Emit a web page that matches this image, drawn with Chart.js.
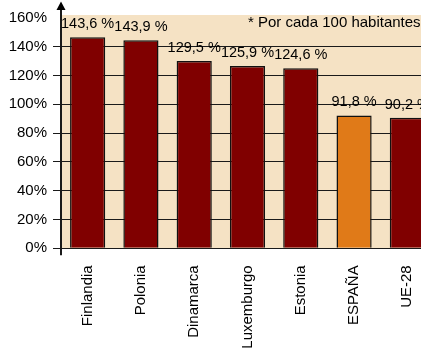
<!DOCTYPE html>
<html><head><meta charset="utf-8">
<script src="https://cdn.jsdelivr.net/npm/chart.js@4"></script>
<style>
html,body{margin:0;padding:0;overflow:hidden;background:#fff;width:421px;height:349px}
#wrap{position:absolute;left:0;top:0;width:440px;height:349px}
</style>
</head><body><div id="wrap"><canvas id="c" width="440" height="349"></canvas></div>
<script>
const categories = ['Finlandia','Polonia','Dinamarca','Luxemburgo','Estonia','ESPAÑA','UE-28'];
const values = [146.6, 144.5, 130.1, 126.5, 125.0, 92.3, 90.7];
const valueLabels = ['143,6 %','143,9 %','129,5 %','125,9 %','124,6 %','91,8 %','90,2 %'];
const barColors = ['#800000','#800000','#800000','#800000','#800000','#E07A18','#800000'];
const yTicks = [0,20,40,60,80,100,120,140,160];
const note = '* Por cada 100 habitantes';

const FONT = "'Liberation Sans', Arial, sans-serif";
Chart.defaults.font.family = FONT;
Chart.defaults.color = '#000';

const deco = {
  id: 'deco',
  beforeDraw(chart) {
    const {ctx, chartArea: a} = chart;
    ctx.save();
    ctx.fillStyle = '#F5E2C4';
    ctx.fillRect(a.left, a.top, a.right - a.left, a.bottom - a.top);
    ctx.restore();
  },
  afterDraw(chart) {
    const {ctx, chartArea: a} = chart;
    ctx.save();
    // value labels
    ctx.font = '14.5px ' + FONT;
    ctx.fillStyle = '#000';
    ctx.textAlign = 'center';
    ctx.textBaseline = 'middle';
    chart.getDatasetMeta(0).data.forEach((el, i) => {
      ctx.fillText(valueLabels[i], el.x, el.y - 13);
    });
    // note
    ctx.font = '15px ' + FONT;
    ctx.textAlign = 'left';
    ctx.fillText(note, 248, 23);
    // y axis line with arrow
    const x = Math.round(a.left);
    ctx.strokeStyle = '#1a1a1a';
    ctx.lineWidth = 2;
    ctx.beginPath();
    ctx.moveTo(x, a.bottom + 7);
    ctx.lineTo(x, 9);
    ctx.stroke();
    ctx.fillStyle = '#000';
    ctx.beginPath();
    ctx.moveTo(x, 1.5);
    ctx.lineTo(x - 4.5, 10);
    ctx.lineTo(x + 4.5, 10);
    ctx.closePath();
    ctx.fill();
    ctx.restore();
  }
};

new Chart(document.getElementById('c'), {
  type: 'bar',
  data: {
    labels: categories,
    datasets: [{
      data: values,
      backgroundColor: barColors,
      borderColor: '#111',
      borderWidth: 1.5,
      categoryPercentage: 0.66,
      barPercentage: 1
    }]
  },
  options: {
    responsive: false,
    devicePixelRatio: 1,
    animation: false,
    layout: { padding: { top: 12, right: 6, left: 0, bottom: 0 } },
    plugins: { legend: { display: false }, tooltip: { enabled: false } },
    scales: {
      x: {
        grid: { display: false },
        border: { display: false },
        ticks: { maxRotation: 90, minRotation: 90, padding: 9, font: { size: 15 }, color: '#000' },
        afterFit(s) { s.height = 100.7; }
      },
      y: {
        min: 0, max: 162,
        afterBuildTicks(s) { s.ticks = yTicks.map(v => ({ value: v })); },
        grid: {
          color: c => (c.tick && c.tick.value === 160) ? 'rgba(0,0,0,0)' : '#1a1a1a',
          lineWidth: 1,
          tickLength: 8,
          drawTicks: true
        },
        border: { display: false },
        ticks: { padding: 6, font: { size: 15 }, color: '#000', callback: v => v + '%' },
        afterFit(s) { s.width = 61; }
      }
    }
  },
  plugins: [deco]
});
</script>
</body></html>
